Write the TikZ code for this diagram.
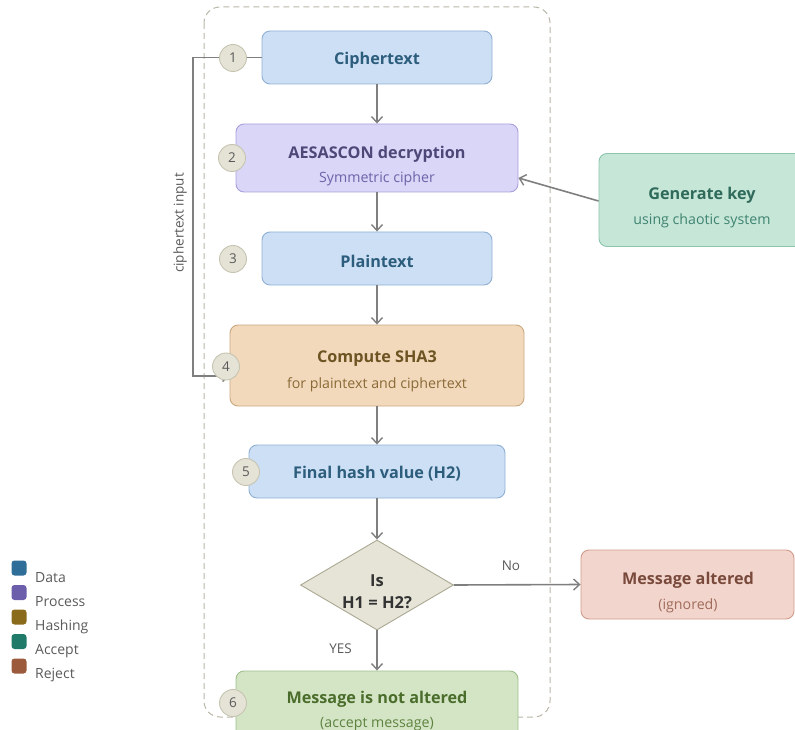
\documentclass[tikz,border=0pt]{standalone}
\usepackage{fontspec}
\setmainfont{Open Sans}
\usetikzlibrary{arrows.meta,shapes.geometric}
\definecolor{arr}{HTML}{7F7F7F}
\definecolor{datafill}{HTML}{CCDFF5}
\definecolor{datadraw}{HTML}{8FB0D2}
\definecolor{datatext}{HTML}{2D5D7C}
\definecolor{procfill}{HTML}{DAD6F8}
\definecolor{procdraw}{HTML}{A99FDA}
\definecolor{proctext}{HTML}{4E4878}
\definecolor{procsub}{HTML}{6D63A8}
\definecolor{hashfill}{HTML}{F2D9BC}
\definecolor{hashdraw}{HTML}{C9A87F}
\definecolor{hashtext}{HTML}{6E5422}
\definecolor{hashsub}{HTML}{8A6A36}
\definecolor{accfill}{HTML}{C6E6D8}
\definecolor{accdraw}{HTML}{8DC4AB}
\definecolor{acctext}{HTML}{2F6A5A}
\definecolor{accsub}{HTML}{3F8470}
\definecolor{okfill}{HTML}{D4E5C6}
\definecolor{okdraw}{HTML}{9DC08B}
\definecolor{oktext}{HTML}{4A6D2B}
\definecolor{oksub}{HTML}{5E8340}
\definecolor{rejfill}{HTML}{F2D5CC}
\definecolor{rejdraw}{HTML}{D19C8C}
\definecolor{rejtext}{HTML}{794A3B}
\definecolor{rejsub}{HTML}{A06C5B}
\definecolor{circfill}{HTML}{E5E3D6}
\definecolor{circdraw}{HTML}{C6C4B1}
\definecolor{decfill}{HTML}{E6E4D7}
\definecolor{decdraw}{HTML}{AAA892}
\definecolor{lbl}{HTML}{5A5A5A}
\definecolor{legdata}{HTML}{2E6E99}
\definecolor{legproc}{HTML}{6C5EAA}
\definecolor{leghash}{HTML}{8A6A1B}
\definecolor{legacc}{HTML}{1F7A6A}
\definecolor{legrej}{HTML}{9A5A3B}
\tikzset{
  box/.style={rectangle, rounded corners=8pt, line width=0.9pt, inner sep=0pt, align=center},
  ttl/.style={font=\fontsize{16.2}{19}\selectfont\bfseries},
  sub/.style={font=\fontsize{14.2}{17}\selectfont},
  flow/.style={draw=arr, line width=1.6pt, -{Straight Barb[length=6pt,width=11pt,line width=1.4pt]}},
  stepnum/.style={circle, fill=circfill, draw=circdraw, line width=0.9pt, minimum size=27pt, inner sep=0pt, text=lbl, font=\fontsize{13.5}{15}\selectfont},
  small/.style={text=lbl, font=\fontsize{13.5}{15}\selectfont},
  legsq/.style={rectangle, rounded corners=3pt, minimum size=15pt, inner sep=0pt},
  legtx/.style={text=lbl, anchor=west, font=\fontsize{14}{16}\selectfont, inner sep=0pt}
}
\begin{document}
\begin{tikzpicture}[x=1pt,y=-1pt]
\useasboundingbox (0,0) rectangle (795,730);
\clip (0,0) rectangle (795,730);
% container
\draw[draw=circdraw!80!gray, line width=1pt, dash pattern=on 6pt off 4pt, rounded corners=16pt] (204,7) rectangle (550,717);
% boxes
\node[box, fill=datafill, draw=datadraw, minimum width=230pt, minimum height=53pt] (c1) at (377,57.5) {};
\node[ttl, text=datatext] (c1t) at (377,60) {Ciphertext};
\node[box, fill=procfill, draw=procdraw, minimum width=282pt, minimum height=68pt] (c2) at (377,158) {};
\node[ttl, text=proctext] (c2t) at (377,154) {AESASCON decryption};
\node[sub, text=procsub] (c2s) at (377,179) {Symmetric cipher};
\node[box, fill=datafill, draw=datadraw, minimum width=230pt, minimum height=53pt] (c3) at (377,258.5) {};
\node[ttl, text=datatext] (c3t) at (377,261) {Plaintext};
\node[box, fill=hashfill, draw=hashdraw, minimum width=294pt, minimum height=81pt] (c4) at (377,365.5) {};
\node[ttl, text=hashtext] (c4t) at (377,359) {Compute SHA3};
\node[sub, text=hashsub] (c4s) at (377,385) {for plaintext and ciphertext};
\node[box, fill=datafill, draw=datadraw, minimum width=256pt, minimum height=53pt] (c5) at (377,471.5) {};
\node[ttl, text=datatext] (c5t) at (377,474) {Final hash value (H2)};
\node[diamond, fill=decfill, draw=decdraw, line width=0.9pt, minimum width=153pt, minimum height=90pt, inner sep=0pt] (d) at (377,585) {};
\node[font=\fontsize{16.5}{22}\selectfont\bfseries, text=black!80, align=center] (dt) at (377,592) {Is\\H1 = H2?};
\node[box, fill=okfill, draw=okdraw, minimum width=282pt, minimum height=72pt] (c6) at (377,707) {};
\node[ttl, text=oktext] (c6t) at (377,699) {Message is not altered};
\node[sub, text=oksub] (c6s) at (377,724) {(accept message)};
\node[box, fill=rejfill, draw=rejdraw, minimum width=213pt, minimum height=69pt] (r) at (687.5,584.5) {};
\node[ttl, text=rejtext] (rt) at (688,580) {Message altered};
\node[sub, text=rejsub] (rs) at (688,606) {(ignored)};
\node[box, fill=accfill, draw=accdraw, minimum width=230pt, minimum height=93pt] (k) at (714,200) {};
\node[ttl, text=acctext] (kt) at (702,195) {Generate key};
\node[sub, text=accsub] (ks) at (702,221) {using chaotic system};
% connectors
\draw[flow] (c1.south) -- (c2.north);
\draw[flow] (c2.south) -- (c3.north);
\draw[flow] (c3.south) -- (c4.north);
\draw[flow] (c4.south) -- (c5.north);
\draw[flow] (c5.south) -- (d.north);
\draw[flow] (d.south) -- node[small, pos=0.45, left=21pt] (yes) {YES} (c6.north);
\draw[flow] (d.east) -- node[small, pos=0.45, above=10pt] (no) {No} (r.west);
\draw[flow] (k.west |- 0,201) -- (c2.east |- 0,178);
\coordinate (lp) at (193,376);
\draw[flow] (c1.west) -- (193,57.5) -- (lp) -- (c4.west |- lp);
\node[small, rotate=90] (cin) at (180,223) {ciphertext input};
% step circles
\node[stepnum] (s1) at (233,58) {1};
\node[stepnum] (s2) at (232,158) {2};
\node[stepnum] (s3) at (233,259) {3};
\node[stepnum] (s4) at (226,366.5) {4};
\node[stepnum] (s5) at (246,472) {5};
\node[stepnum] (s6) at (233,703) {6};
% legend
\node[legsq, fill=legdata] (l1) at (19,568) {};
\node[legtx] (l1t) at (35,578) {Data};
\node[legsq, fill=legproc] (l2) at (19,592.5) {};
\node[legtx] (l2t) at (35,602) {Process};
\node[legsq, fill=leghash] (l3) at (19,617) {};
\node[legtx] (l3t) at (35,627) {Hashing};
\node[legsq, fill=legacc] (l4) at (19,641.5) {};
\node[legtx] (l4t) at (35,651) {Accept};
\node[legsq, fill=legrej] (l5) at (19,666) {};
\node[legtx] (l5t) at (35,675) {Reject};
\end{tikzpicture}
\end{document}
